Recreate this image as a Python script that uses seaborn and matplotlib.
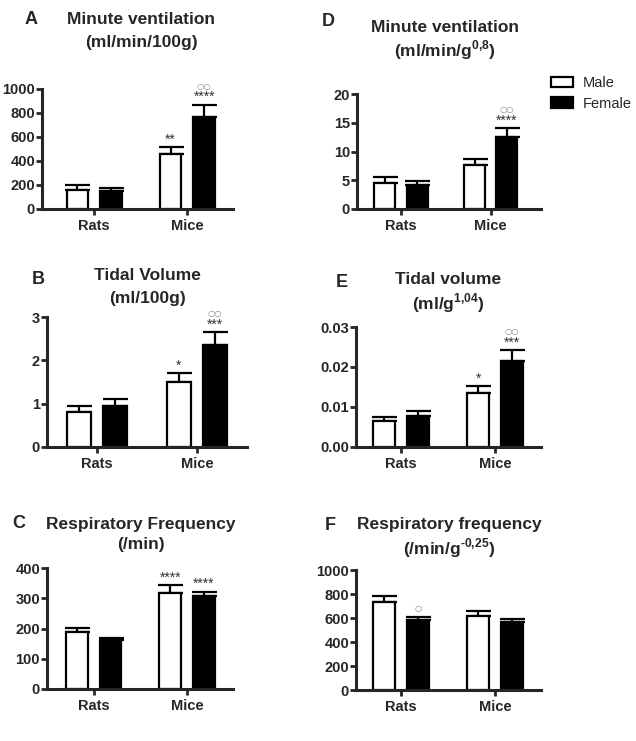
import pandas as pd
import numpy as np
import matplotlib.pyplot as plt
import seaborn as sns

# --- data ---
species = ['Rats', 'Mice']
sexes = ['Male', 'Female']

# A: minute ventilation (ml/min/100g)
mv100_male = [160, 460]
mv100_female = [152, 763]
mv100_male_sem = [36, 58]
mv100_female_sem = [23, 106]

# B: tidal volume (ml/100g)
vt100_male = [0.80, 1.49]
vt100_female = [0.94, 2.36]
vt100_male_sem = [0.14, 0.21]
vt100_female_sem = [0.16, 0.29]

# C: respiratory frequency (/min)
rf_male = [187, 318]
rf_female = [163, 309]
rf_male_sem = [16, 25]
rf_female_sem = [6, 13]

# D: minute ventilation (ml/min/g^0,8)
mvs_male = [4.6, 7.7]
mvs_female = [4.2, 12.5]
mvs_male_sem = [1.05, 1.0]
mvs_female_sem = [0.7, 1.6]

# E: tidal volume (ml/g^1,04)
vts_male = [0.0065, 0.0136]
vts_female = [0.00775, 0.0215]
vts_male_sem = [0.0010, 0.0017]
vts_female_sem = [0.0013, 0.0027]

# F: respiratory frequency (/min/g^-0,25)
rfs_male = [730, 617]
rfs_female = [583, 569]
rfs_male_sem = [53, 41]
rfs_female_sem = [23, 23]

sns.set_style('ticks')
plt.rcParams['font.family'] = ['Liberation Sans', 'DejaVu Sans']
plt.rcParams['mathtext.fontset'] = 'custom'
plt.rcParams['mathtext.bf'] = 'Liberation Sans:bold'
plt.rcParams['mathtext.rm'] = 'Liberation Sans:bold'

W, H = 636, 741
fig = plt.figure(figsize=(W / 100, H / 100), dpi=100)


def px_axes(x0, x1, ytop, ybot):
    return fig.add_axes([x0 / W, 1 - ybot / H, (x1 - x0) / W, (ybot - ytop) / H])


def panel(ax, male, female, male_sem, female_sem, ymax, yticks, fmt, xlim,
          stars=None, legend=False):
    df = pd.DataFrame({
        'species': species * 2,
        'sex': ['Male'] * 2 + ['Female'] * 2,
        'value': list(male) + list(female),
    })
    sns.barplot(data=df, x='species', y='value', hue='sex', hue_order=sexes,
                palette={'Male': 'white', 'Female': 'black'}, edgecolor='black',
                linewidth=1.6, errorbar=None, width=0.72, gap=0.35, ax=ax,
                legend=legend, zorder=2)
    sems = {'Male': male_sem, 'Female': female_sem}
    tops = {}
    for cont, sex in zip(ax.containers, sexes):
        for i, bar in enumerate(cont):
            x = bar.get_x() + bar.get_width() / 2
            h = bar.get_height()
            e = sems[sex][i]
            ax.errorbar(x, h, yerr=[[0], [e]], fmt='none', ecolor='black',
                        elinewidth=1.6, capsize=9, capthick=1.6, zorder=1)
            tops[(sex, i)] = (x, h + e)
    if stars:
        for (sex, i), (st, circ) in stars.items():
            x, y = tops[(sex, i)]
            if st:
                ax.annotate(st, (x, y), xytext=(0, 2.5), textcoords='offset points',
                            ha='center', va='baseline', fontsize=10, color='#333333',
                            annotation_clip=False)
            if circ:
                off = 11.5 if st else 4.5
                ax.annotate(circ, (x, y), xytext=(0, off), textcoords='offset points',
                            ha='center', va='baseline', fontsize=6, color='#8a8a8a',
                            family='DejaVu Sans', annotation_clip=False)
    ax.set_ylim(0, ymax)
    ax.set_xlim(*xlim)
    ax.set_yticks(yticks)
    ax.set_yticklabels([fmt.format(t) for t in yticks])
    ax.set_xlabel('')
    ax.set_ylabel('')
    sns.despine(ax=ax)
    for s in ['left', 'bottom']:
        ax.spines[s].set_linewidth(2.2)
    ax.tick_params(axis='both', width=2.0, length=4, pad=1, labelsize=10.5)
    ax.tick_params(axis='x', pad=3)
    for lab in ax.get_xticklabels() + ax.get_yticklabels():
        lab.set_fontweight('bold')


def title(xc, y1, y2, line1, line2, letter, xl, yl):
    fig.text(xc / W, 1 - y1 / H, line1, ha='center', va='center',
             fontsize=12.5, fontweight='bold')
    fig.text(xc / W, 1 - y2 / H, line2, ha='center', va='center',
             fontsize=12.5, fontweight='bold')
    fig.text(xl / W, 1 - yl / H, letter, ha='left', va='center',
             fontsize=13, fontweight='bold')


axA = px_axes(42, 233, 89, 209)
panel(axA, mv100_male, mv100_female, mv100_male_sem, mv100_female_sem,
      1000, [0, 200, 400, 600, 800, 1000], '{:g}', (-0.56, 1.49),
      stars={('Male', 1): ('**', None), ('Female', 1): ('****', '○○')})
title(141, 20, 43, 'Minute ventilation', '(ml/min/100g)', 'A', 25, 20)

axB = px_axes(47, 247, 317, 447)
panel(axB, vt100_male, vt100_female, vt100_male_sem, vt100_female_sem,
      3, [0, 1, 2, 3], '{:g}', (-0.5, 1.5),
      stars={('Male', 1): ('*', None), ('Female', 1): ('***', '○○')})
title(147, 275, 299, 'Tidal Volume', '(ml/100g)', 'B', 32, 279)

axC = px_axes(47, 233, 568, 689)
panel(axC, rf_male, rf_female, rf_male_sem, rf_female_sem,
      400, [0, 100, 200, 300, 400], '{:g}', (-0.5, 1.49),
      stars={('Male', 1): ('****', None), ('Female', 1): ('****', None)})
title(141, 524, 545, 'Respiratory Frequency', '(/min)', 'C', 12, 524)

axD = px_axes(357, 541, 94, 209)
panel(axD, mvs_male, mvs_female, mvs_male_sem, mvs_female_sem,
      20, [0, 5, 10, 15, 20], '{:g}', (-0.49, 1.56),
      stars={('Female', 1): ('****', '○○')}, legend=True)
title(445, 28, 50, 'Minute ventilation', r'(ml/min/g$^{\text{0,8}}$)', 'D', 322, 22)
leg = axD.legend(loc='upper left', bbox_to_anchor=(551 / W, 1 - 76 / H),
                 bbox_transform=fig.transFigure, frameon=False, borderpad=0,
                 borderaxespad=0, handlelength=1.5, handleheight=0.75,
                 handletextpad=0.7, labelspacing=0.45, fontsize=10.5)
for hnd in leg.legend_handles:
    hnd.set_edgecolor('black')
    hnd.set_linewidth(1.6)

axE = px_axes(356, 541, 327, 447)
panel(axE, vts_male, vts_female, vts_male_sem, vts_female_sem,
      0.03, [0, 0.01, 0.02, 0.03], '{:.2f}', (-0.48, 1.49),
      stars={('Male', 1): ('*', None), ('Female', 1): ('***', '○○')})
title(448, 279, 303, 'Tidal volume', r'(ml/g$^{\text{1,04}}$)', 'E', 336, 283)

axF = px_axes(356, 541, 570, 690)
panel(axF, rfs_male, rfs_female, rfs_male_sem, rfs_female_sem,
      1000, [0, 200, 400, 600, 800, 1000], '{:g}', (-0.48, 1.49),
      stars={('Female', 0): (None, '○')})
title(449, 525, 548, 'Respiratory frequency', r'(/min/g$^{\text{-0,25}}$)', 'F', 325, 525)

fig.savefig('out.png', dpi=100)
